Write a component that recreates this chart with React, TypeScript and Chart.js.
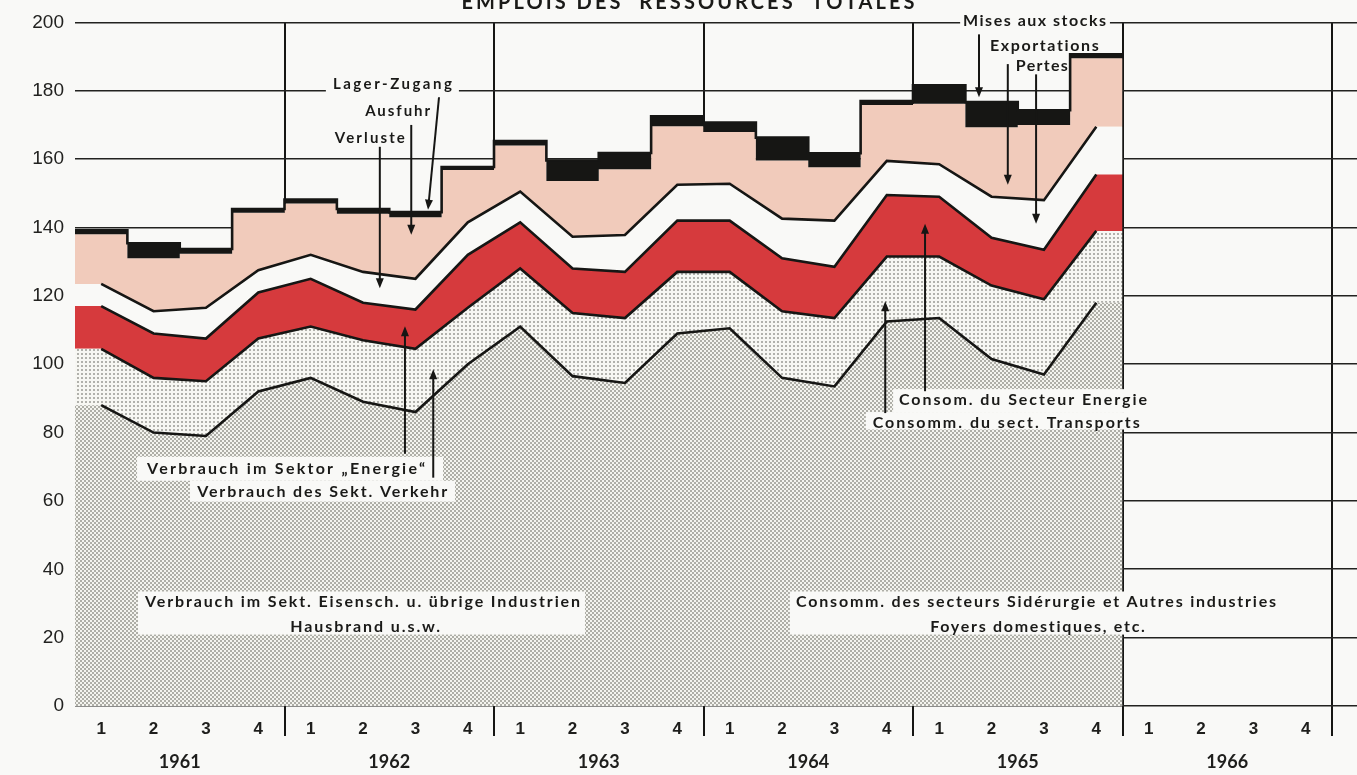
import React, { useEffect, useRef } from 'react';
import { Chart, registerables } from 'chart.js';

Chart.register(...registerables);

// ---------- data ----------
const years = ['1961', '1962', '1963', '1964', '1965', '1966'];
const quarterLabels = ['1', '2', '3', '4'];
const yMin = 0;
const yMax = 200;
const yStep = 20;

// quarterly values 1961 Q1 .. 1965 Q4 (cumulative levels)
const siderurgieTop = [88, 80, 79, 92, 96, 89, 86, 100, 111, 96.5, 94.5, 109, 110.5, 96, 93.5, 112.5, 113.5, 101.5, 97, 118];
const transportTop = [104.5, 96, 95, 107.5, 111, 107, 104.5, 116.5, 128, 115, 113.5, 127, 127, 115.5, 113.5, 131.5, 131.5, 123, 119, 139];
const energieTop = [117, 109, 107.5, 121, 125, 118, 116, 132, 141.5, 128, 127, 142, 142, 131, 128.5, 149.5, 149, 137, 133.5, 155.5];
const pertesTop = [123.5, 115.5, 116.5, 127.5, 132, 127, 125, 141.5, 150.5, 137.3, 137.8, 152.5, 152.8, 142.6, 142, 159.5, 158.5, 149, 148, 169.5];
const exportTop = [138, 131, 132.3, 144.3, 147, 144, 143, 156.8, 164, 153.6, 157, 169.6, 167.9, 159.6, 157.6, 175.8, 176.2, 169.3, 170, 189.5];
const totalTop = [139.2, 135.4, 133.7, 145.4, 148.2, 145.4, 144.5, 157.7, 165.3, 159.6, 161.8, 172.5, 170.7, 166.3, 161.7, 177, 181.6, 176.7, 174.3, 190.7];

// ---------- annotations (data coordinates) ----------
type Label = { text: string; x: number; y: number; w: number; size: number };
const labels: Label[] = [
  { text: 'Lager-Zugang', x: 6.06, y: 181.9, w: 119, size: 15 },
  { text: 'Ausfuhr', x: 6.16, y: 174.0, w: 65, size: 15 },
  { text: 'Verluste', x: 5.63, y: 166.2, w: 70, size: 15 },
  { text: 'Verbrauch im Sektor \u201eEnergie\u201c', x: 4.03, y: 69.4, w: 278, size: 16 },
  { text: 'Verbrauch des Sekt. Verkehr', x: 4.72, y: 62.7, w: 250, size: 16 },
  { text: 'Consom. du Secteur Energie', x: 18.1, y: 89.5, w: 248, size: 16 },
  { text: 'Consomm. du sect. Transports', x: 17.78, y: 82.8, w: 267, size: 16 },
  { text: 'Mises aux stocks', x: 18.32, y: 200.6, w: 143, size: 16 },
  { text: 'Exportations', x: 18.51, y: 193.0, w: 109, size: 16 },
  { text: 'Pertes', x: 18.46, y: 187.2, w: 52, size: 16 },
  { text: 'Verbrauch im Sekt. Eisensch. u. \u00fcbrige Industrien', x: 5.49, y: 30.6, w: 435, size: 16 },
  { text: 'Hausbrand u.s.w.', x: 5.54, y: 23.3, w: 150, size: 16 },
  { text: 'Consomm. des secteurs Sid\u00e9rurgie et Autres industries', x: 18.35, y: 30.6, w: 480, size: 16 },
  { text: 'Foyers domestiques, etc.', x: 18.38, y: 23.3, w: 215, size: 16 },
];
// [x1, yTop, x2, yBottom]
const boxes: number[][] = [
  [4.79, 184.3, 7.33, 179.6],
  [16.9, 202.9, 19.76, 197.7],
  [1.185, 72.9, 7.026, 65.9],
  [2.196, 65.9, 7.255, 59.8],
  [15.62, 92.7, 20.53, 86.0],
  [15.1, 86.0, 20.39, 80.9],
  [1.203, 33.5, 9.737, 20.9],
  [13.65, 33.5, 23.2, 20.9],
];
// [xFrom, yFrom, xTo, yTo] -> arrow head at "to"
const arrows: number[][] = [
  [6.95, 178.1, 6.74, 145.2],
  [6.42, 170.0, 6.42, 137.9],
  [5.82, 163.6, 5.82, 122.2],
  [6.3, 73.8, 6.3, 111.1],
  [6.84, 66.8, 6.84, 98.5],
  [16.23, 92.1, 16.23, 141.1],
  [15.47, 85.7, 15.47, 118.4],
  [17.26, 196.5, 17.26, 178.1],
  [17.81, 187.8, 17.81, 152.5],
  [18.35, 184.8, 18.35, 141.1],
];
const title = 'EMPLOIS DES  RESSOURCES  TOTALES';

const W = 1357;
const H = 775;
const BG = '#f9f9f7';
const INK = '#161614';

const areaPts = (v: number[]) => [
  { x: 0, y: v[0] },
  ...v.map((y, i) => ({ x: i + 0.5, y })),
  { x: v.length, y: v[v.length - 1] },
];
const linePts = (v: number[]) => v.map((y, i) => ({ x: i + 0.5, y }));
const stepPts = (v: number[]) => [...v.map((y, i) => ({ x: i, y })), { x: v.length, y: v[v.length - 1] }];

function makePattern(ctx: CanvasRenderingContext2D, size: number, bg: string, dots: number[][], r: number, col: string) {
  const c = document.createElement('canvas');
  c.width = size;
  c.height = size;
  const g = c.getContext('2d')!;
  g.fillStyle = bg;
  g.fillRect(0, 0, size, size);
  g.fillStyle = col;
  for (const [x, y] of dots) {
    g.beginPath();
    g.arc(x, y, r, 0, Math.PI * 2);
    g.fill();
  }
  return ctx.createPattern(c, 'repeat')!;
}

function drawSpaced(ctx: CanvasRenderingContext2D, text: string, cx: number, cy: number, w: number, font: string) {
  ctx.font = font;
  (ctx as any).letterSpacing = '0px';
  const w0 = ctx.measureText(text).width;
  const sp = Math.max(0, (w - w0) / Math.max(1, text.length - 1));
  (ctx as any).letterSpacing = sp + 'px';
  ctx.textAlign = 'left';
  ctx.textBaseline = 'middle';
  ctx.fillText(text, cx - w / 2, cy);
  (ctx as any).letterSpacing = '0px';
}

const overlay = {
  id: 'overlay',
  beforeDraw(chart: any) {
    const { ctx } = chart;
    ctx.save();
    ctx.fillStyle = BG;
    ctx.fillRect(0, 0, chart.width, chart.height);
    ctx.restore();
  },
  afterDraw(chart: any) {
    const { ctx } = chart;
    const xs = chart.scales.x;
    const ys = chart.scales.y;
    const px = (v: number) => xs.getPixelForValue(v);
    const py = (v: number) => ys.getPixelForValue(v);
    ctx.save();
    ctx.fillStyle = BG;
    for (const [x1, y1, x2, y2] of boxes) {
      ctx.fillRect(px(x1), py(y1), px(x2) - px(x1), py(y2) - py(y1));
    }
    ctx.strokeStyle = INK;
    ctx.fillStyle = INK;
    for (const [x1, y1, x2, y2] of arrows) {
      const ax = px(x1), ay = py(y1), bx = px(x2), by = py(y2);
      const ang = Math.atan2(by - ay, bx - ax);
      const len = 10, half = 4;
      const cos = Math.cos(ang), sin = Math.sin(ang);
      ctx.lineWidth = 2;
      ctx.beginPath();
      ctx.moveTo(ax, ay);
      ctx.lineTo(bx - (len - 2) * cos, by - (len - 2) * sin);
      ctx.stroke();
      ctx.beginPath();
      ctx.moveTo(bx, by);
      ctx.lineTo(bx - len * cos + half * sin, by - len * sin - half * cos);
      ctx.lineTo(bx - len * cos - half * sin, by - len * sin + half * cos);
      ctx.closePath();
      ctx.fill();
    }
    ctx.fillStyle = '#1a1a18';
    for (const l of labels) {
      drawSpaced(ctx, l.text, px(l.x), py(l.y), l.w, `bold ${l.size}px Lato`);
    }
    drawSpaced(ctx, title, 688, 3, 453, 'bold 20px Lato');
    ctx.restore();
  },
};

export default function App() {
  const ref = useRef<HTMLCanvasElement>(null);
  useEffect(() => {
    const canvas = ref.current!;
    const c2d = canvas.getContext('2d')!;
    const dense = makePattern(c2d, 4, '#f4f4ef', [[1, 1], [3, 3]], 0.75, '#46463e');
    const light = makePattern(c2d, 4, '#f7f7f3', [[2, 2]], 0.75, '#4a4a42');
    const red = '#d63a3d';
    const pink = '#f1cbbb';

    const boundaries = years.map((_, i) => i * 4).concat([years.length * 4]);
    const qCenters = Array.from({ length: years.length * 4 }, (_, i) => i + 0.5);
    const yCenters = years.map((_, i) => i * 4 + 2);
    const tickVals = [...boundaries, ...qCenters, ...yCenters].sort((a, b) => a - b);
    const isBoundary = (v: number) => boundaries.includes(v) && v > 0;
    const isYear = (v: number) => yCenters.includes(v);

    const area = (data: any[], fill: any, bg: any, extra: any = {}) => ({
      data,
      fill,
      backgroundColor: bg,
      borderColor: 'rgba(0,0,0,0)',
      borderWidth: 0,
      pointRadius: 0,
      order: 2,
      ...extra,
    });
    const line = (data: any[]) => ({
      data,
      fill: false,
      borderColor: INK,
      borderWidth: 2.6,
      pointRadius: 0,
      order: 0,
    });

    const chart = new Chart(canvas, {
      type: 'line',
      data: {
        datasets: [
          area(areaPts(siderurgieTop), 'origin', dense),
          area(areaPts(transportTop), '-1', light),
          area(areaPts(energieTop), '-1', red),
          area(areaPts(pertesTop), '-1', BG),
          area(stepPts(exportTop), '-1', pink, { stepped: 'before' }),
          area(stepPts(totalTop), '-1', INK, { stepped: 'before', borderColor: INK, borderWidth: 2.6, order: 1 }),
          line(linePts(siderurgieTop)),
          line(linePts(transportTop)),
          line(linePts(energieTop)),
          line(linePts(pertesTop)),
        ] as any,
      },
      options: {
        responsive: false,
        animation: false,
        events: [],
        layout: { padding: { top: 20, left: 0, right: 0, bottom: 0 } },
        plugins: {
          legend: { display: false },
          tooltip: { enabled: false },
          filler: { drawTime: 'beforeDatasetsDraw' },
        } as any,
        scales: {
          x: {
            type: 'linear',
            min: 0,
            max: (W - 75) / ((1332 - 75) / 24),
            z: 1,
            afterBuildTicks: (s: any) => {
              s.ticks = tickVals.map((v) => ({ value: v }));
            },
            afterFit: (s: any) => {
              s.height = H - 706;
            },
            border: { display: false },
            grid: {
              color: (c: any) => (c.tick && isBoundary(c.tick.value) ? INK : 'rgba(0,0,0,0)'),
              lineWidth: (c: any) => (c.tick && isBoundary(c.tick.value) ? 2 : 1),
              tickLength: 30,
              drawTicks: true,
            },
            ticks: {
              autoSkip: false,
              maxRotation: 0,
              padding: -23.5,
              color: '#1e1e1c',
              font: (c: any) =>
                c.tick && isYear(c.tick.value)
                  ? { family: 'Lato', size: 18, weight: 'bold', lineHeight: '33px' }
                  : { family: 'Liberation Sans', size: 17, weight: 'bold', lineHeight: '33px' },
              callback: (value: any) => {
                const v = Number(value);
                if (Math.abs(v - Math.floor(v) - 0.5) < 0.01) return quarterLabels[Math.floor(v) % 4];
                if (isYear(v)) return ['', years[(v - 2) / 4]];
                return '';
              },
            },
          },
          y: {
            type: 'linear',
            min: yMin,
            max: yMax,
            z: 1,
            afterFit: (s: any) => {
              s.width = 75;
            },
            border: { display: false },
            grid: { color: '#222220', lineWidth: 1.6, drawTicks: false },
            ticks: {
              stepSize: yStep,
              padding: 11,
              color: '#222220',
              font: { family: 'Liberation Sans', size: 19 },
            },
          },
        },
      } as any,
      plugins: [overlay],
    });
    return () => chart.destroy();
  }, []);
  return (
    <canvas
      ref={ref}
      width={W}
      height={H}
      style={{ position: 'absolute', left: 0, top: 0, display: 'block' }}
    />
  );
}
